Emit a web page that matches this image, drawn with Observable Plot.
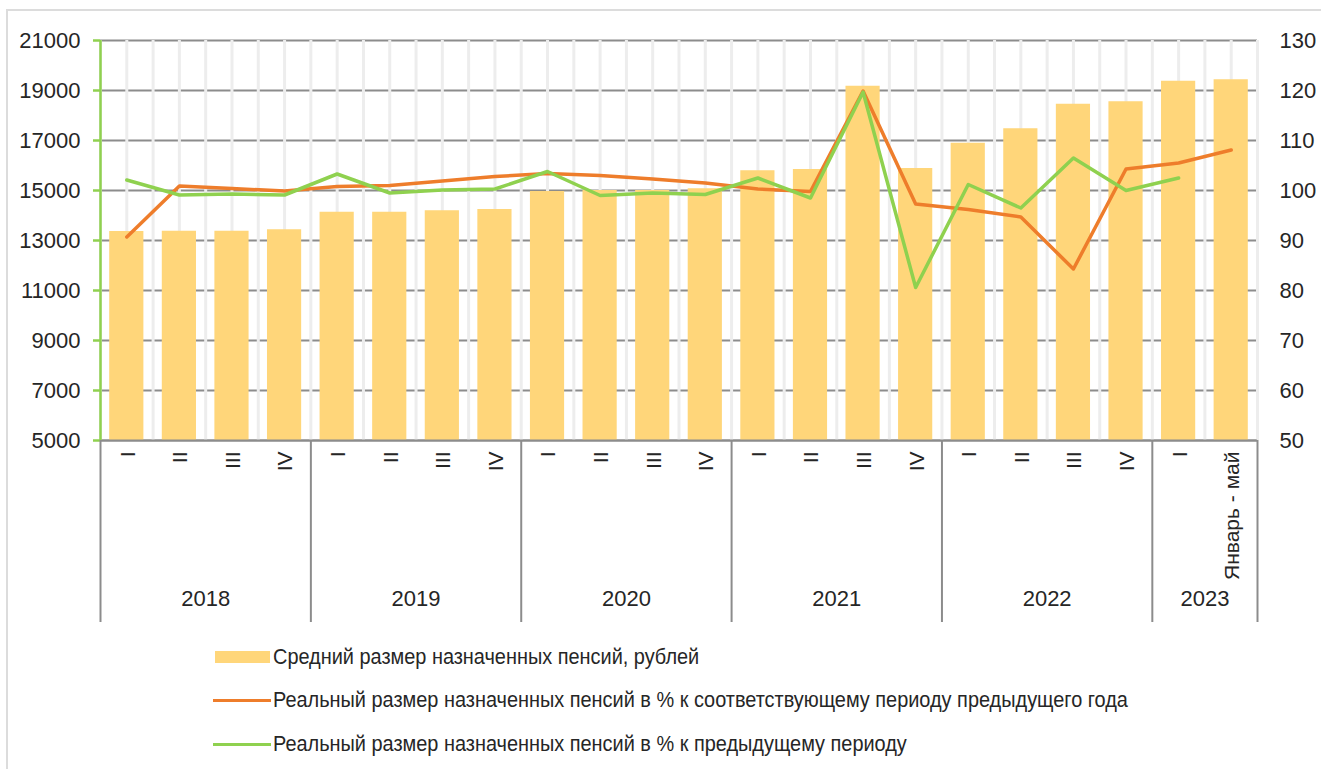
<!DOCTYPE html>
<html>
<head>
<meta charset="utf-8">
<script src="https://cdn.jsdelivr.net/npm/d3@7"></script>
<script src="https://cdn.jsdelivr.net/npm/@observablehq/plot@0.6"></script>
<style>
  html, body { margin: 0; padding: 0; background: #fff; overflow: hidden; }
  #wrap { position: relative; width: 1321px; height: 769px; }
  #frame { position: absolute; left: 6px; top: 9px; width: 1340px; height: 800px; border: 2px solid #dcdcdc; box-sizing: border-box; }
  #chart, #table { position: absolute; left: 0; }
  #chart { top: 0; }
  #table { top: 440px; }
  .legend { position: absolute; left: 0; top: 0; font-family: "Liberation Sans Narrow", "Arial Narrow", "Liberation Sans", sans-serif; font-size: 22px; color: #262626; }
  .row { position: absolute; left: 0; height: 26px; white-space: nowrap; }
  .sw { position: absolute; }
  .lab { position: absolute; left: 273px; top: 0; line-height: 26px; transform: scaleX(0.905); transform-origin: 0 50%; }
</style>
</head>
<body>
<div id="wrap">
  <div id="frame"></div>
  <div id="chart"></div>
  <div id="table"></div>
  <div class="legend" id="legend"></div>
</div>
<script>
// ---- data ----
const periods = ["I","II","III","IV","I","II","III","IV","I","II","III","IV","I","II","III","IV","I","II","III","IV","I","Январь - май"];
const periodYears = ["2018","2018","2018","2018","2019","2019","2019","2019","2020","2020","2020","2020","2021","2021","2021","2021","2022","2022","2022","2022","2023","2023"];
const years = ["2018","2019","2020","2021","2022","2023"];
const avgPension = [13360, 13370, 13370, 13430, 14130, 14130, 14190, 14240, 14960, 15000, 15000, 15070, 15790, 15840, 19170, 15880, 16890, 17470, 18450, 18550, 19370, 19430];
const realYoY = [90.7, 100.9, 100.4, 99.9, 100.8, 101.0, 101.9, 102.8, 103.4, 103.0, 102.3, 101.5, 100.3, 99.8, 119.9, 97.3, 96.2, 94.7, 84.3, 104.3, 105.5, 108.1];
const realQoQ = [102.1, 99.1, 99.3, 99.1, 103.3, 99.5, 100.1, 100.3, 103.8, 99.0, 99.5, 99.2, 102.5, 98.5, 119.7, 80.6, 101.2, 96.5, 106.5, 100.0, 102.5, null];
const leftTicks = [5000, 7000, 9000, 11000, 13000, 15000, 17000, 19000, 21000];
const rightTicks = [50, 60, 70, 80, 90, 100, 110, 120, 130];
const legendLabels = [
  "Средний размер назначенных пенсий, рублей",
  "Реальный размер назначенных пенсий в % к соответствующему периоду предыдущего года",
  "Реальный размер назначенных пенсий в % к предыдущему периоду"
];

// ---- styles ----
const FONT = '"Liberation Sans Narrow", "Arial Narrow", "Liberation Sans", sans-serif';
const BAR = "#ffd67a", ORANGE = "#ee7d2b", GREEN = "#8fd14f", GRID = "#8c8c8c", TXT = "#262626";

// right axis (50..130) mapped onto left axis (5000..21000)
const L0 = leftTicks[0], L1 = leftTicks[leftTicks.length - 1];
const R0 = rightTicks[0], R1 = rightTicks[rightTicks.length - 1];
const toLeft = v => L0 + (v - R0) * (L1 - L0) / (R1 - R0);
const fromLeft = y => Math.round(R0 + (y - L0) * (R1 - R0) / (L1 - L0));

const rows = periods.map((p, i) => ({i, period: p, year: periodYears[i], pension: avgPension[i], yoy: realYoY[i], qoq: realQoQ[i]}));
const n = rows.length;
const xDomain = [-0.5, n - 0.5];
const vgrid = d3.range(-0.5, n - 0.5 + 0.01, 0.5);
const yearRows = years.map(y => {
  const idx = rows.filter(r => r.year === y).map(r => r.i);
  return {year: y, center: d3.mean(idx), start: d3.min(idx) - 0.5, end: d3.max(idx) + 0.5};
});
const boundaries = Array.from(new Set(yearRows.flatMap(d => [d.start, d.end])));

const chart = Plot.plot({
  width: 1321, height: 460,
  marginLeft: 100, marginRight: 64, marginTop: 40, marginBottom: 20,
  x: {type: "linear", domain: xDomain, axis: null},
  y: {domain: [L0, L1], axis: null},
  style: {fontFamily: FONT, fontSize: "22px", color: TXT, background: "transparent", overflow: "visible"},
  marks: [
    Plot.ruleY(leftTicks, {stroke: GRID, strokeWidth: 2}),
    Plot.ruleX(vgrid, {stroke: "#ededed", strokeWidth: 3}),
    Plot.rect(rows, {x1: d => d.i - 0.325, x2: d => d.i + 0.325, y1: L0, y2: "pension", fill: BAR}),
    Plot.ruleY([L0], {stroke: GRID, strokeWidth: 2}),
    Plot.ruleX([xDomain[0]], {stroke: GREEN, strokeWidth: 2.5}),
    Plot.axisY(leftTicks, {anchor: "left", label: null, tickSize: 7, tickPadding: 13, stroke: GREEN, strokeWidth: 2.5, fill: TXT, fontSize: 22, tickFormat: d => String(d)}),
    Plot.axisY(rightTicks.map(toLeft), {anchor: "right", label: null, tickSize: 0, tickPadding: 22, fill: TXT, fontSize: 22, tickFormat: fromLeft}),
    Plot.line(rows, {x: "i", y: d => toLeft(d.yoy), stroke: ORANGE, strokeWidth: 3.5, strokeLinejoin: "round"}),
    Plot.line(rows.filter(d => d.qoq != null), {x: "i", y: d => toLeft(d.qoq), stroke: GREEN, strokeWidth: 3.5, strokeLinejoin: "round"})
  ]
});
document.getElementById("chart").appendChild(chart);

const table = Plot.plot({
  width: 1321, height: 184,
  marginLeft: 100, marginRight: 64, marginTop: 0, marginBottom: 2,
  x: {type: "linear", domain: xDomain, axis: null},
  style: {fontFamily: FONT, fontSize: "22px", color: TXT, background: "transparent", overflow: "visible"},
  marks: [
    Plot.ruleX(boundaries, {stroke: GRID, strokeWidth: 2}),
    Plot.text(rows, {x: "i", text: "period", rotate: -90, textAnchor: "end", frameAnchor: "top", dy: 11, dx: -7, fontSize: 21, fill: TXT}),
    Plot.text(yearRows, {x: "center", text: "year", frameAnchor: "bottom", dy: -17, fontSize: 22, fill: TXT})
  ]
});
document.getElementById("table").appendChild(table);

// legend
const legend = document.getElementById("legend");
const legendTops = [644, 687, 731];
const legendStyles = [
  {fill: BAR, h: 12, w: 55, l: 215},
  {fill: ORANGE, h: 3, w: 58, l: 213},
  {fill: GREEN, h: 3, w: 58, l: 213}
];
legendLabels.forEach((lab, k) => {
  const row = document.createElement("div");
  row.className = "row";
  row.style.top = legendTops[k] + "px";
  row.style.width = "1321px";
  const sw = document.createElement("div");
  sw.className = "sw";
  sw.style.width = legendStyles[k].w + "px";
  sw.style.left = legendStyles[k].l + "px";
  sw.style.height = legendStyles[k].h + "px";
  sw.style.top = (13 - legendStyles[k].h / 2) + "px";
  sw.style.background = legendStyles[k].fill;
  const t = document.createElement("div");
  t.className = "lab";
  t.textContent = lab;
  row.appendChild(sw);
  row.appendChild(t);
  legend.appendChild(row);
});
</script>
</body>
</html>
